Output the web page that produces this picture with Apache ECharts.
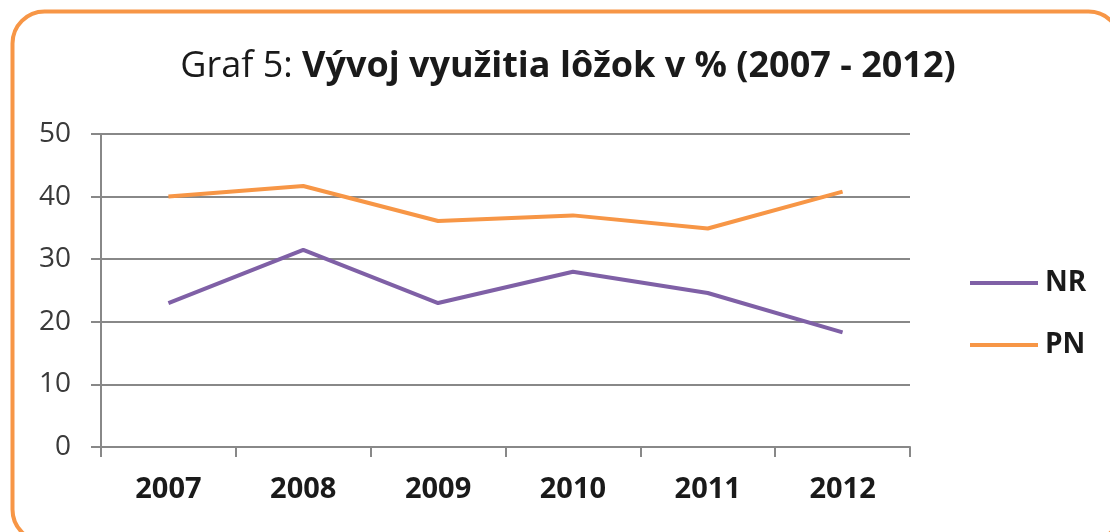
<!DOCTYPE html>
<html>
<head>
<meta charset="utf-8">
<script src="https://cdn.jsdelivr.net/npm/echarts@6/dist/echarts.min.js"></script>
<style>
  html, body { margin: 0; padding: 0; background: #ffffff; }
  #chart { width: 1110px; height: 532px; }
</style>
</head>
<body>
<div id="chart"></div>
<script>
// Occupancy of beds in % by year
const years = ['2007', '2008', '2009', '2010', '2011', '2012'];
const nrValues = [23.0, 31.5, 23.0, 28.0, 24.6, 18.3];
const pnValues = [40.0, 41.7, 36.1, 37.0, 34.9, 40.8];
const yTicks = { min: 0, max: 50, interval: 10 };

const FONT = '"Open Sans", sans-serif';
const chart = echarts.init(document.getElementById('chart'), null, { renderer: 'canvas' });

chart.setOption({
  backgroundColor: '#ffffff',
  animation: false,
  graphic: [{
    type: 'rect',
    left: 10, top: 9,
    shape: { width: 1108, height: 530, r: 32 },
    style: { fill: 'none', stroke: '#F79646', lineWidth: 4 },
    silent: true,
    z: 100
  }],
  title: {
    text: 'Graf 5: {b|Vývoj využitia lôžok v % (2007 - 2012)}',
    left: 563, top: 44, textAlign: 'center',
    textStyle: {
      fontFamily: FONT, fontSize: 36, fontWeight: 'normal', color: '#1a1a1a',
      rich: { b: { fontFamily: FONT, fontSize: 36, fontWeight: 'bold', color: '#1a1a1a' } }
    }
  },
  legend: {
    orient: 'vertical',
    left: 965, top: 264,
    itemWidth: 68, itemHeight: 4, itemGap: 34,
    icon: 'rect',
    textStyle: { fontFamily: FONT, fontSize: 28, fontWeight: 'bold', color: '#1a1a1a', padding: [0, 0, 0, 2] },
    data: ['NR', 'PN']
  },
  grid: { left: 101, right: 200, top: 134, bottom: 85 },
  xAxis: {
    type: 'category',
    data: years,
    boundaryGap: true,
    axisLine: { lineStyle: { color: '#888888', width: 2 } },
    axisTick: { show: true, length: 10, lineStyle: { color: '#888888', width: 2 } },
    axisLabel: { fontFamily: FONT, fontSize: 29, fontWeight: 'bold', color: '#1a1a1a', margin: 28 }
  },
  yAxis: {
    type: 'value',
    min: yTicks.min, max: yTicks.max, interval: yTicks.interval,
    axisLine: { show: true, lineStyle: { color: '#888888', width: 2 } },
    axisTick: { show: true, length: 10, lineStyle: { color: '#888888', width: 2 } },
    splitLine: { lineStyle: { color: '#888888', width: 2 } },
    axisLabel: { fontFamily: FONT, fontSize: 28, color: '#3a3a3a', margin: 30 }
  },
  series: [
    {
      name: 'NR', type: 'line', data: nrValues,
      symbol: 'none',
      lineStyle: { color: '#7F60A6', width: 4 },
      itemStyle: { color: '#7F60A6' }
    },
    {
      name: 'PN', type: 'line', data: pnValues,
      symbol: 'none',
      lineStyle: { color: '#F79646', width: 4 },
      itemStyle: { color: '#F79646' }
    }
  ]
});
</script>
</body>
</html>
